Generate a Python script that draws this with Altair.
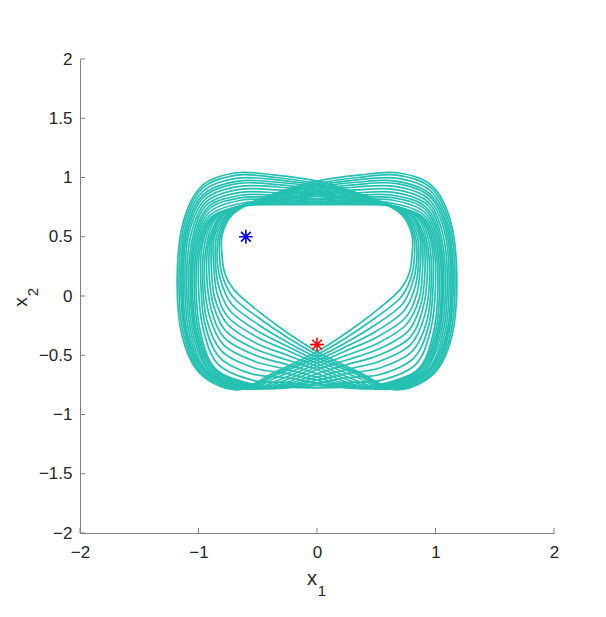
import altair as alt
import pandas as pd

# ---- loops of the trajectory family, from the left-wide loop to the right-wide loop ----
LOOP_01_X = [0.80, 0.80, 0.71, 0.52, 0.25, 0.00, -0.35, -0.68, -0.97, -1.13, -1.18, -1.14, -0.99, -0.68, -0.35, 0.00, 0.25, 0.48, 0.68, 0.77]
LOOP_01_Y = [0.32, 0.52, 0.69, 0.80, 0.90, 0.97, 1.02, 1.04, 0.93, 0.62, 0.15, -0.33, -0.65, -0.79, -0.64, -0.47, -0.31, -0.14, 0.03, 0.17]
LOOP_02_X = [0.82, 0.815, 0.725, 0.53, 0.255, 0.00, -0.345, -0.675, -0.965, -1.12, -1.165, -1.125, -0.98, -0.66, -0.34, 0.00, 0.25, 0.485, 0.695, 0.785]
LOOP_02_Y = [0.30, 0.51, 0.69, 0.80, 0.89, 0.95, 1.00, 1.02, 0.91, 0.60, 0.14, -0.33, -0.65, -0.79, -0.65, -0.495, -0.35, -0.19, -0.025, 0.13]
LOOP_03_X = [0.84, 0.83, 0.74, 0.54, 0.26, 0.00, -0.34, -0.67, -0.96, -1.11, -1.15, -1.11, -0.97, -0.64, -0.33, 0.00, 0.25, 0.49, 0.71, 0.80]
LOOP_03_Y = [0.275, 0.50, 0.685, 0.795, 0.88, 0.935, 0.98, 0.995, 0.885, 0.58, 0.13, -0.33, -0.645, -0.787, -0.66, -0.52, -0.39, -0.245, -0.08, 0.09]
LOOP_04_X = [0.855, 0.85, 0.755, 0.545, 0.265, 0.00, -0.335, -0.665, -0.955, -1.10, -1.14, -1.10, -0.955, -0.62, -0.32, 0.00, 0.25, 0.495, 0.725, 0.82]
LOOP_04_Y = [0.25, 0.49, 0.68, 0.79, 0.87, 0.92, 0.96, 0.97, 0.86, 0.565, 0.125, -0.33, -0.64, -0.785, -0.68, -0.545, -0.425, -0.30, -0.135, 0.05]
LOOP_05_X = [0.87, 0.87, 0.77, 0.55, 0.27, 0.00, -0.33, -0.66, -0.95, -1.09, -1.13, -1.09, -0.94, -0.60, -0.30, 0.00, 0.25, 0.50, 0.74, 0.84]
LOOP_05_Y = [0.23, 0.48, 0.68, 0.79, 0.86, 0.90, 0.94, 0.95, 0.84, 0.55, 0.12, -0.33, -0.64, -0.785, -0.70, -0.57, -0.46, -0.35, -0.19, 0.01]
LOOP_06_X = [0.89, 0.885, 0.79, 0.56, 0.27, 0.00, -0.33, -0.655, -0.94, -1.08, -1.115, -1.075, -0.93, -0.58, -0.28, 0.00, 0.25, 0.51, 0.75, 0.86]
LOOP_06_Y = [0.21, 0.47, 0.68, 0.785, 0.85, 0.885, 0.92, 0.925, 0.82, 0.53, 0.11, -0.33, -0.64, -0.783, -0.715, -0.595, -0.50, -0.40, -0.245, -0.03]
LOOP_07_X = [0.91, 0.90, 0.805, 0.57, 0.275, 0.00, -0.325, -0.65, -0.935, -1.065, -1.10, -1.06, -0.92, -0.56, -0.26, 0.00, 0.25, 0.515, 0.765, 0.875]
LOOP_07_Y = [0.185, 0.46, 0.675, 0.78, 0.835, 0.87, 0.895, 0.90, 0.795, 0.51, 0.10, -0.325, -0.64, -0.78, -0.73, -0.62, -0.54, -0.45, -0.30, -0.075]
LOOP_08_X = [0.93, 0.915, 0.82, 0.58, 0.28, 0.00, -0.32, -0.645, -0.93, -1.05, -1.085, -1.045, -0.90, -0.54, -0.24, 0.00, 0.25, 0.52, 0.78, 0.89]
LOOP_08_Y = [0.16, 0.45, 0.67, 0.78, 0.82, 0.855, 0.87, 0.875, 0.77, 0.49, 0.09, -0.32, -0.64, -0.778, -0.74, -0.655, -0.58, -0.50, -0.355, -0.12]
LOOP_09_X = [0.95, 0.93, 0.84, 0.59, 0.28, 0.00, -0.32, -0.64, -0.92, -1.04, -1.07, -1.03, -0.89, -0.52, -0.23, 0.00, 0.25, 0.53, 0.79, 0.91]
LOOP_09_Y = [0.14, 0.44, 0.67, 0.775, 0.81, 0.84, 0.85, 0.85, 0.75, 0.47, 0.08, -0.32, -0.64, -0.777, -0.75, -0.685, -0.62, -0.55, -0.41, -0.16]
LOOP_10_X = [0.965, 0.95, 0.855, 0.595, 0.285, 0.00, -0.315, -0.635, -0.915, -1.03, -1.06, -1.02, -0.875, -0.50, -0.22, 0.00, 0.25, 0.535, 0.805, 0.93]
LOOP_10_Y = [0.12, 0.43, 0.67, 0.77, 0.80, 0.82, 0.83, 0.83, 0.73, 0.455, 0.075, -0.32, -0.635, -0.775, -0.76, -0.71, -0.655, -0.605, -0.465, -0.20]
LOOP_11_X = [0.98, 0.97, 0.87, 0.60, 0.29, 0.00, -0.31, -0.63, -0.91, -1.02, -1.05, -1.01, -0.86, -0.48, -0.21, 0.00, 0.25, 0.54, 0.82, 0.945]
LOOP_11_Y = [0.10, 0.42, 0.665, 0.77, 0.79, 0.80, 0.81, 0.81, 0.705, 0.44, 0.07, -0.32, -0.63, -0.773, -0.765, -0.735, -0.69, -0.66, -0.52, -0.24]
LOOP_12_X = [1.00, 0.985, 0.885, 0.61, 0.295, 0.00, -0.305, -0.625, -0.905, -1.01, -1.035, -0.995, -0.85, -0.46, -0.20, 0.00, 0.25, 0.545, 0.835, 0.96]
LOOP_12_Y = [0.075, 0.41, 0.66, 0.765, 0.78, 0.785, 0.79, 0.785, 0.68, 0.42, 0.06, -0.32, -0.63, -0.77, -0.77, -0.755, -0.73, -0.71, -0.575, -0.28]
LOOP_13_X = [1.02, 1.00, 0.90, 0.62, 0.30, 0.00, -0.30, -0.62, -0.90, -1.00, -1.02, -0.98, -0.84, -0.45, -0.20, 0.00, 0.20, 0.45, 0.84, 0.98]
LOOP_13_Y = [0.05, 0.40, 0.66, 0.76, 0.77, 0.77, 0.77, 0.76, 0.66, 0.40, 0.05, -0.32, -0.63, -0.765, -0.772, -0.775, -0.772, -0.765, -0.63, -0.32]
LOOP_14_X = [-1.00, -0.985, -0.885, -0.61, -0.295, 0.00, 0.305, 0.625, 0.905, 1.01, 1.035, 0.995, 0.85, 0.46, 0.20, 0.00, -0.25, -0.545, -0.835, -0.96]
LOOP_14_Y = [0.075, 0.41, 0.66, 0.765, 0.78, 0.785, 0.79, 0.785, 0.68, 0.42, 0.06, -0.32, -0.63, -0.77, -0.77, -0.755, -0.73, -0.71, -0.575, -0.28]
LOOP_15_X = [-0.98, -0.97, -0.87, -0.60, -0.29, 0.00, 0.31, 0.63, 0.91, 1.02, 1.05, 1.01, 0.86, 0.48, 0.21, 0.00, -0.25, -0.54, -0.82, -0.945]
LOOP_15_Y = [0.10, 0.42, 0.665, 0.77, 0.79, 0.80, 0.81, 0.81, 0.705, 0.44, 0.07, -0.32, -0.63, -0.773, -0.765, -0.735, -0.69, -0.66, -0.52, -0.24]
LOOP_16_X = [-0.965, -0.95, -0.855, -0.595, -0.285, 0.00, 0.315, 0.635, 0.915, 1.03, 1.06, 1.02, 0.875, 0.50, 0.22, 0.00, -0.25, -0.535, -0.805, -0.93]
LOOP_16_Y = [0.12, 0.43, 0.67, 0.77, 0.80, 0.82, 0.83, 0.83, 0.73, 0.455, 0.075, -0.32, -0.635, -0.775, -0.76, -0.71, -0.655, -0.605, -0.465, -0.20]
LOOP_17_X = [-0.95, -0.93, -0.84, -0.59, -0.28, 0.00, 0.32, 0.64, 0.92, 1.04, 1.07, 1.03, 0.89, 0.52, 0.23, 0.00, -0.25, -0.53, -0.79, -0.91]
LOOP_17_Y = [0.14, 0.44, 0.67, 0.775, 0.81, 0.84, 0.85, 0.85, 0.75, 0.47, 0.08, -0.32, -0.64, -0.777, -0.75, -0.685, -0.62, -0.55, -0.41, -0.16]
LOOP_18_X = [-0.93, -0.915, -0.82, -0.58, -0.28, 0.00, 0.32, 0.645, 0.93, 1.05, 1.085, 1.045, 0.90, 0.54, 0.24, 0.00, -0.25, -0.52, -0.78, -0.89]
LOOP_18_Y = [0.16, 0.45, 0.67, 0.78, 0.82, 0.855, 0.87, 0.875, 0.77, 0.49, 0.09, -0.32, -0.64, -0.778, -0.74, -0.655, -0.58, -0.50, -0.355, -0.12]
LOOP_19_X = [-0.91, -0.90, -0.805, -0.57, -0.275, 0.00, 0.325, 0.65, 0.935, 1.065, 1.10, 1.06, 0.92, 0.56, 0.26, 0.00, -0.25, -0.515, -0.765, -0.875]
LOOP_19_Y = [0.185, 0.46, 0.675, 0.78, 0.835, 0.87, 0.895, 0.90, 0.795, 0.51, 0.10, -0.325, -0.64, -0.78, -0.73, -0.62, -0.54, -0.45, -0.30, -0.075]
LOOP_20_X = [-0.89, -0.885, -0.79, -0.56, -0.27, 0.00, 0.33, 0.655, 0.94, 1.08, 1.115, 1.075, 0.93, 0.58, 0.28, 0.00, -0.25, -0.51, -0.75, -0.86]
LOOP_20_Y = [0.21, 0.47, 0.68, 0.785, 0.85, 0.885, 0.92, 0.925, 0.82, 0.53, 0.11, -0.33, -0.64, -0.783, -0.715, -0.595, -0.50, -0.40, -0.245, -0.03]
LOOP_21_X = [-0.87, -0.87, -0.77, -0.55, -0.27, 0.00, 0.33, 0.66, 0.95, 1.09, 1.13, 1.09, 0.94, 0.60, 0.30, 0.00, -0.25, -0.50, -0.74, -0.84]
LOOP_21_Y = [0.23, 0.48, 0.68, 0.79, 0.86, 0.90, 0.94, 0.95, 0.84, 0.55, 0.12, -0.33, -0.64, -0.785, -0.70, -0.57, -0.46, -0.35, -0.19, 0.01]
LOOP_22_X = [-0.855, -0.85, -0.755, -0.545, -0.265, 0.00, 0.335, 0.665, 0.955, 1.10, 1.14, 1.10, 0.955, 0.62, 0.32, 0.00, -0.25, -0.495, -0.725, -0.82]
LOOP_22_Y = [0.25, 0.49, 0.68, 0.79, 0.87, 0.92, 0.96, 0.97, 0.86, 0.565, 0.125, -0.33, -0.64, -0.785, -0.68, -0.545, -0.425, -0.30, -0.135, 0.05]
LOOP_23_X = [-0.84, -0.83, -0.74, -0.54, -0.26, 0.00, 0.34, 0.67, 0.96, 1.11, 1.15, 1.11, 0.97, 0.64, 0.33, 0.00, -0.25, -0.49, -0.71, -0.80]
LOOP_23_Y = [0.275, 0.50, 0.685, 0.795, 0.88, 0.935, 0.98, 0.995, 0.885, 0.58, 0.13, -0.33, -0.645, -0.787, -0.66, -0.52, -0.39, -0.245, -0.08, 0.09]
LOOP_24_X = [-0.82, -0.815, -0.725, -0.53, -0.255, 0.00, 0.345, 0.675, 0.965, 1.12, 1.165, 1.125, 0.98, 0.66, 0.34, 0.00, -0.25, -0.485, -0.695, -0.785]
LOOP_24_Y = [0.30, 0.51, 0.69, 0.80, 0.89, 0.95, 1.00, 1.02, 0.91, 0.60, 0.14, -0.33, -0.65, -0.79, -0.65, -0.495, -0.35, -0.19, -0.025, 0.13]
LOOP_25_X = [-0.80, -0.80, -0.71, -0.52, -0.25, 0.00, 0.35, 0.68, 0.97, 1.13, 1.18, 1.14, 0.99, 0.68, 0.35, 0.00, -0.25, -0.48, -0.68, -0.77]
LOOP_25_Y = [0.32, 0.52, 0.69, 0.80, 0.90, 0.97, 1.02, 1.04, 0.93, 0.62, 0.15, -0.33, -0.65, -0.79, -0.64, -0.47, -0.31, -0.14, 0.03, 0.17]

# ---- markers ----
STAR_X = [-0.60, 0.00]
STAR_Y = [0.50, -0.41]
STAR_NAME = ["start", "end"]
STAR_COLOR = ["#0000ff", "#ff0000"]

# ---- axes ----
X_TICKS = [-2, -1, 0, 1, 2]
Y_TICKS = [-2, -1.5, -1, -0.5, 0, 0.5, 1, 1.5, 2]

LOOPS_X = [LOOP_01_X, LOOP_02_X, LOOP_03_X, LOOP_04_X, LOOP_05_X, LOOP_06_X, LOOP_07_X,
           LOOP_08_X, LOOP_09_X, LOOP_10_X, LOOP_11_X, LOOP_12_X, LOOP_13_X, LOOP_14_X,
           LOOP_15_X, LOOP_16_X, LOOP_17_X, LOOP_18_X, LOOP_19_X, LOOP_20_X, LOOP_21_X,
           LOOP_22_X, LOOP_23_X, LOOP_24_X, LOOP_25_X]
LOOPS_Y = [LOOP_01_Y, LOOP_02_Y, LOOP_03_Y, LOOP_04_Y, LOOP_05_Y, LOOP_06_Y, LOOP_07_Y,
           LOOP_08_Y, LOOP_09_Y, LOOP_10_Y, LOOP_11_Y, LOOP_12_Y, LOOP_13_Y, LOOP_14_Y,
           LOOP_15_Y, LOOP_16_Y, LOOP_17_Y, LOOP_18_Y, LOOP_19_Y, LOOP_20_Y, LOOP_21_Y,
           LOOP_22_Y, LOOP_23_Y, LOOP_24_Y, LOOP_25_Y]

rows = []
for i, (lx, ly) in enumerate(zip(LOOPS_X, LOOPS_Y)):
    for j, (a, b) in enumerate(zip(lx, ly)):
        rows.append({"loop": i, "idx": j, "x": a, "y": b})
loops_df = pd.DataFrame(rows)
stars_df = pd.DataFrame({"x": STAR_X, "y": STAR_Y, "name": STAR_NAME})

W = H = 474
FONT = "Liberation Sans"
AX_COLOR = "#808080"
TXT_COLOR = "#262626"
TEAL = "#24c0b1"

xs = alt.Scale(domain=[-2, 2], nice=False, zero=False)
ys = alt.Scale(domain=[-2, 2], nice=False, zero=False)

LABEL_EXPR = "replace(datum.value + '', '-', '\u2212')"
AXIS_X = alt.Axis(values=X_TICKS, title=None, grid=False, ticks=False,
                  domainColor=AX_COLOR, domainWidth=1,
                  labelFont=FONT, labelFontSize=17, labelColor=TXT_COLOR,
                  labelPadding=11, labelFlush=False, labelOverlap=False,
                  labelExpr=LABEL_EXPR)
AXIS_Y = alt.Axis(values=Y_TICKS, title=None, grid=False, ticks=False,
                  domainColor=AX_COLOR, domainWidth=1,
                  labelFont=FONT, labelFontSize=17, labelColor=TXT_COLOR,
                  labelPadding=8, labelFlush=False, labelOverlap=False,
                  labelExpr=LABEL_EXPR)

loops = alt.Chart(loops_df).mark_line(
    interpolate="cardinal-closed", strokeWidth=1.7, color=TEAL
).encode(
    x=alt.X("x:Q", scale=xs, axis=AXIS_X),
    y=alt.Y("y:Q", scale=ys, axis=AXIS_Y),
    detail="loop:N",
    order="idx:Q",
)

xticks = alt.Chart(pd.DataFrame({"x": X_TICKS})).mark_rule(color=AX_COLOR, strokeWidth=1).encode(
    x=alt.X("x:Q", scale=xs, axis=AXIS_X), y=alt.value(H), y2=alt.value(H - 5))
yticks = alt.Chart(pd.DataFrame({"y": Y_TICKS})).mark_rule(color=AX_COLOR, strokeWidth=1).encode(
    y=alt.Y("y:Q", scale=ys, axis=AXIS_Y), x=alt.value(0), x2=alt.value(5))

STAR_PATH = "M0,-1L0,1M-1,0L1,0M-0.71,-0.71L0.71,0.71M-0.71,0.71L0.71,-0.71"
stars = alt.Chart(stars_df).mark_point(shape=STAR_PATH, filled=False, size=190, strokeWidth=1.6, opacity=1).encode(
    x=alt.X("x:Q", scale=xs, axis=AXIS_X),
    y=alt.Y("y:Q", scale=ys, axis=AXIS_Y),
    color=alt.Color("name:N", scale=alt.Scale(domain=STAR_NAME, range=STAR_COLOR), legend=None),
)

one = pd.DataFrame({"a": [0]})
tx_main = alt.Chart(one).mark_text(text="x", font=FONT, fontSize=20, color=TXT_COLOR,
                                   align="center", baseline="alphabetic").encode(
    x=alt.value(232), y=alt.value(526))
tx_sub = alt.Chart(one).mark_text(text="1", font=FONT, fontSize=15, color=TXT_COLOR,
                                  align="center", baseline="alphabetic").encode(
    x=alt.value(242), y=alt.value(537))
ty_main = alt.Chart(one).mark_text(text="x", font=FONT, fontSize=19, color=TXT_COLOR, angle=270,
                                   align="center", baseline="alphabetic").encode(
    x=alt.value(-53), y=alt.value(243))
ty_sub = alt.Chart(one).mark_text(text="2", font=FONT, fontSize=15, color=TXT_COLOR, angle=270,
                                  align="center", baseline="alphabetic").encode(
    x=alt.value(-42), y=alt.value(233))

chart = alt.layer(loops, xticks, yticks, stars, tx_main, tx_sub, ty_main, ty_sub).properties(
    width=W, height=H,
    padding={"left": 72, "top": 51, "right": 40, "bottom": 70},
    autosize=alt.AutoSizeParams(type="none"),
).configure_view(stroke=None)

chart.save("out.html", embed_options={"renderer": "svg", "actions": False})
